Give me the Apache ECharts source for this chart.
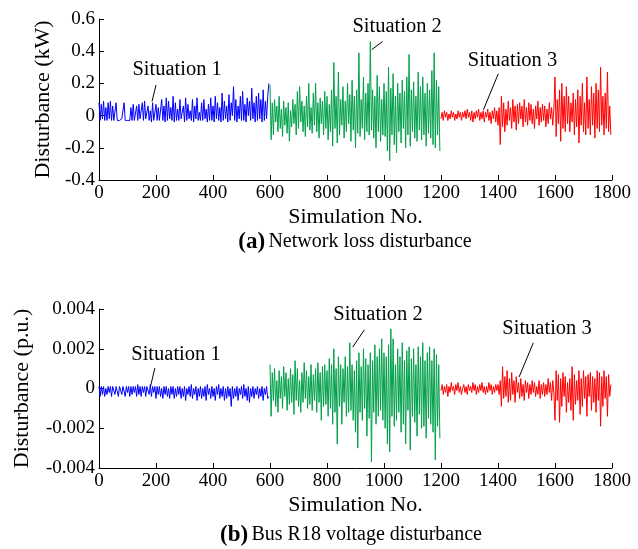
<!DOCTYPE html>
<html>
<head>
<meta charset="utf-8">
<script src="https://cdn.jsdelivr.net/npm/echarts@6/dist/echarts.min.js"></script>
<style>
  html, body { margin: 0; padding: 0; background: #fff; }
  #main { width: 638px; height: 549px; }
</style>
</head>
<body>
<div id="main"></div>
<script>
// sample spacing used when reading values off the picture
const xStep = 4
const segStart = [0, 600, 1200]
const situationNames = ['Situation 1', 'Situation 2', 'Situation 3']

// (a) network loss disturbance, kW
const lossS1 = [
  0.08,-0.03,0.07,-0.02,0.09,-0.03,0.05,-0.03,0.08,-0.02,
  0.09,-0.03,0.06,-0.03,-0.02,0.08,-0.03,-0.02,-0.03,-0.03,
  -0.02,-0.03,0.08,-0.03,-0.02,-0.03,-0.02,-0.03,0.05,-0.03,
  0.07,-0.03,-0.02,0.06,-0.03,0.07,-0.02,-0.03,0.08,-0.03,
  0.09,-0.02,-0.03,0.06,-0.03,0.03,-0.04,0.08,-0.03,-0.02,
  0.07,-0.03,0.05,-0.03,-0.02,0.1,-0.03,0.06,-0.04,0.11,
  -0.03,0.09,-0.02,0.05,-0.03,0.12,-0.04,0.08,-0.03,0.04,
  -0.03,0.1,-0.02,-0.03,0.06,-0.04,0.11,-0.03,0.07,-0.02,
  0.03,-0.03,0.1,-0.04,0.06,-0.02,0.11,-0.03,0.02,-0.03,
  0.08,-0.03,0.1,-0.02,0.04,-0.04,0.07,-0.03,0.11,-0.03,
  0.06,-0.04,0.12,-0.02,0.08,-0.03,0.05,-0.04,0.14,-0.03,
  0.09,-0.02,0.06,-0.04,0.13,-0.03,0.08,0.0,0.18,-0.03,
  0.1,-0.04,0.06,-0.02,0.12,-0.03,0.15,-0.03,0.07,-0.04,
  0.11,0.0,0.09,-0.03,0.17,-0.02,0.08,-0.04,0.12,-0.03,
  0.14,-0.02,0.1,-0.04,0.16,-0.03,0.09,-0.02,0.12,0.2
]
const lossS2 = [
  0.19,-0.15,0.08,-0.12,0.1,-0.04,0.06,-0.1,0.12,-0.08,
  0.04,-0.13,0.09,-0.06,0.05,-0.11,0.08,-0.16,0.03,-0.07,
  0.1,-0.05,0.07,-0.12,0.15,-0.08,0.18,-0.04,0.09,-0.1,
  0.06,-0.13,0.12,-0.07,0.2,-0.09,0.05,-0.11,0.14,-0.06,
  0.2,-0.1,0.08,-0.14,0.11,-0.05,0.09,-0.12,0.15,-0.08,
  0.12,-0.15,0.07,-0.1,0.16,-0.19,0.33,-0.08,0.12,-0.17,
  0.27,-0.12,0.1,-0.06,0.18,-0.14,0.09,-0.1,0.2,-0.05,
  0.13,-0.16,0.22,-0.09,0.12,-0.2,0.16,-0.11,0.39,-0.13,
  0.1,-0.08,0.24,-0.15,0.14,-0.1,0.2,-0.12,0.46,-0.09,
  0.16,-0.14,0.12,-0.2,0.25,-0.1,0.18,-0.16,0.1,-0.12,
  0.2,-0.13,0.15,-0.22,0.3,-0.28,0.17,-0.12,0.26,-0.18,
  0.12,-0.23,0.2,-0.1,0.14,-0.17,0.22,-0.08,0.15,-0.2,
  0.24,-0.12,0.38,-0.19,0.16,-0.1,0.21,-0.14,0.12,-0.16,
  0.27,-0.09,0.18,-0.15,0.24,-0.12,0.14,-0.19,0.2,-0.11,
  0.16,-0.14,0.28,-0.18,0.39,-0.2,0.22,-0.12,0.18,-0.22
]
const lossS3 = [
  -0.02,0.02,-0.03,0.03,-0.01,0.02,-0.03,0.01,-0.02,0.03,
  -0.01,0.02,-0.03,0.01,-0.02,0.03,-0.01,0.02,-0.03,0.02,
  -0.01,0.03,-0.02,0.04,-0.01,0.02,-0.03,0.03,-0.04,0.02,
  -0.02,0.03,-0.01,0.04,-0.03,0.02,-0.02,0.03,-0.04,0.02,
  -0.01,0.04,-0.03,0.02,-0.05,0.03,-0.02,0.05,-0.04,0.03,
  -0.06,0.05,-0.18,0.12,-0.07,0.08,-0.1,0.04,-0.06,0.09,
  -0.03,0.05,-0.08,0.1,-0.04,0.06,-0.09,0.07,-0.05,0.08,
  -0.02,0.06,-0.07,0.1,-0.04,0.05,-0.06,0.08,-0.03,0.07,
  -0.05,0.04,-0.08,0.06,-0.02,0.09,-0.06,0.05,-0.04,0.07,
  -0.03,0.06,-0.07,0.04,-0.05,0.08,-0.02,0.05,-0.06,0.04,
  0.24,-0.13,0.1,-0.05,0.16,-0.16,0.2,-0.08,0.12,-0.1,
  0.18,-0.05,0.12,-0.1,0.08,-0.04,0.14,-0.12,0.1,-0.07,
  0.16,-0.17,0.12,-0.06,0.2,-0.1,0.08,-0.12,0.24,-0.08,
  0.1,-0.12,0.18,-0.06,0.14,-0.14,0.2,-0.08,0.16,-0.1,
  0.3,-0.06,0.12,-0.12,0.14,-0.08,0.27,-0.1,0.06,-0.12
]

// (b) bus R18 voltage disturbance, p.u.
const voltS1 = [
  0.0001,-0.0004,0.0001,-0.0003,0.0001,-0.0004,0.0,-0.0003,0.0001,-0.0002,
  0.0001,-0.0004,0.0001,0.0001,-0.0003,0.0001,0.0,-0.0004,0.0001,0.0001,
  -0.0003,0.0001,0.0001,-0.0004,0.0001,-0.0002,0.0001,-0.0004,0.0001,-0.0003,
  0.0001,-0.0002,0.0001,-0.0004,0.0002,-0.0003,0.0001,-0.0004,0.0001,-0.0002,
  0.0001,-0.0004,0.0001,0.0001,-0.0003,0.0002,-0.0004,0.0001,-0.0002,0.0001,
  -0.0005,0.0001,-0.0003,0.0001,-0.0004,0.0,-0.0005,0.0001,-0.0003,0.0001,
  -0.0004,0.0,-0.0005,0.0001,-0.0003,0.0001,-0.0005,0.0,-0.0004,0.0001,
  -0.0003,0.0001,-0.0005,0.0,-0.0004,0.0001,-0.0006,0.0,-0.0003,0.0001,
  -0.0004,0.0002,-0.0005,0.0,-0.0003,0.0001,-0.0006,0.0,-0.0004,0.0001,
  -0.0005,0.0,-0.0004,0.0001,-0.0006,0.0002,-0.0003,0.0,-0.0005,0.0001,
  -0.0004,0.0,-0.0006,0.0001,-0.0003,0.0002,-0.0005,0.0,-0.0004,0.0001,
  -0.0006,0.0,-0.0005,0.0001,-0.0004,0.0,-0.0009,0.0001,-0.0005,0.0,
  -0.0004,0.0001,-0.0006,0.0,-0.0003,0.0001,-0.0005,0.0002,-0.0004,0.0,
  -0.0006,0.0001,-0.0007,0.0,-0.0004,0.0001,-0.0005,0.0,-0.0003,0.0001,
  -0.0005,0.0,-0.0004,0.0001,-0.0006,0.0,-0.0003,0.0001,-0.0005,-0.0004
]
const voltS2 = [
  0.0012,-0.0014,0.0008,-0.0006,0.001,-0.0009,0.0004,-0.0012,0.0009,-0.0005,
  0.0006,-0.001,0.0011,-0.0004,0.0008,-0.0011,0.0005,-0.0008,0.001,-0.0007,
  0.0007,-0.0013,0.0014,-0.0006,0.001,-0.0009,0.0004,-0.0012,0.0008,-0.0007,
  0.0013,-0.0005,0.0009,-0.001,0.0006,-0.0008,0.0012,-0.0011,0.0007,-0.0006,
  0.001,-0.0012,0.0013,-0.0007,0.0008,-0.0016,0.0011,-0.0009,0.0012,-0.0008,
  0.0009,-0.0014,0.0015,-0.001,0.0012,-0.0018,0.002,-0.0012,0.001,-0.0028,
  0.0016,-0.0009,0.0012,-0.0018,0.001,-0.0007,0.0016,-0.0014,0.0011,-0.0012,
  0.0023,-0.0011,0.0012,-0.0016,0.0009,-0.0022,0.0014,-0.003,0.0018,-0.0012,
  0.0011,-0.0016,0.002,-0.001,0.0015,-0.0024,0.0012,-0.0015,0.0018,-0.0037,
  0.0014,-0.0012,0.0022,-0.0018,0.0016,-0.0014,0.002,-0.0011,0.0025,-0.0016,
  0.0018,-0.002,0.0016,-0.0028,0.0022,-0.0032,0.003,-0.0014,0.0025,-0.0019,
  0.0012,-0.0016,0.002,-0.0012,0.0016,-0.0022,0.0023,-0.0018,0.0014,-0.0028,
  0.0019,-0.0011,0.0021,-0.0031,0.0015,-0.0014,0.002,-0.0017,0.0012,-0.0024,
  0.0021,-0.0013,0.0016,-0.002,0.0023,-0.0019,0.0014,-0.0025,0.0018,-0.0015,
  0.0021,-0.0018,0.0014,-0.0022,0.002,-0.0036,0.0017,-0.0019,0.0012,-0.0025
]
const voltS3 = [
  -0.0001,0.0002,-0.0003,0.0001,-0.0002,0.0002,-0.0004,0.0001,-0.0002,0.0003,
  -0.0001,0.0001,-0.0003,0.0002,-0.0001,0.0003,-0.0002,0.0001,-0.0003,0.0,
  0.0002,-0.0002,0.0001,-0.0003,0.0002,-0.0001,0.0001,-0.0002,0.0003,-0.0001,
  0.0002,-0.0003,0.0001,-0.0002,0.0002,-0.0001,0.0003,-0.0002,0.0001,-0.0003,
  0.0001,-0.0002,0.0003,-0.0001,0.0002,-0.0003,0.0001,-0.0002,0.0002,-0.0001,
  0.0002,-0.0003,0.0004,-0.0009,0.0011,-0.0005,0.0006,-0.0004,0.0009,-0.0007,
  0.0005,-0.0006,0.0008,-0.0003,0.0004,-0.0007,0.0006,-0.0002,0.0003,-0.0005,
  0.0005,-0.0004,0.0002,-0.0006,0.0004,-0.0002,0.0003,-0.0005,0.0002,-0.0003,
  0.0004,-0.0002,0.0003,-0.0004,0.0001,-0.0003,0.0004,-0.0005,0.0002,-0.0003,
  0.0003,-0.0004,0.0002,-0.0003,0.0005,-0.0002,0.0003,-0.0006,0.0004,-0.0002,
  -0.0016,0.0009,-0.0006,0.0007,-0.0017,0.0005,-0.0009,0.0008,-0.0004,0.0006,
  -0.0012,0.0003,-0.0007,0.0005,-0.0011,0.0011,-0.0016,0.0007,-0.0008,0.0004,
  -0.0006,0.0009,-0.0013,0.0005,-0.0009,0.0009,-0.0005,0.0006,-0.0014,0.0007,
  -0.0004,0.0008,-0.0011,0.0006,-0.0007,0.0005,-0.0012,0.0009,-0.0006,0.0008,
  -0.0019,0.0006,-0.0009,0.0009,-0.0005,0.0006,-0.0014,0.0007,-0.0004,0.0002
]

// annotation anchors in data units: [textX, textY, lineFromX, lineFromY, lineToX, lineToY]
const lossNotes = [
  [274, 0.285, 200, 0.19, 186, 0.087],
  [1046, 0.55, 995, 0.46, 957, 0.41],
  [1451, 0.344, 1401, 0.26, 1349, 0.037]
]
const voltNotes = [
  [270, 0.00172, 196, 0.00103, 181, 0.00012],
  [979, 0.0037, 931, 0.00295, 890, 0.00208],
  [1572, 0.003, 1524, 0.0023, 1474, 0.00058]
]

const colors = ['#0000ff', '#00a04a', '#ff0000']
const serif = 'Liberation Serif'

const toPts = (start, arr) => arr.map((v, i) => [start + i * xStep, v])

let chart = echarts.init(document.getElementById('main'))

const xAxisCfg = (gridIndex) => ({
  type: 'value',
  gridIndex: gridIndex,
  min: 0,
  max: 1800,
  interval: 200,
  name: 'Simulation No.',
  nameLocation: 'middle',
  nameGap: 26,
  nameTextStyle: { fontFamily: serif, fontSize: 22, color: '#000' },
  axisLine: { onZero: false, lineStyle: { color: '#000', width: 1 } },
  axisTick: { inside: true, length: 5, lineStyle: { color: '#000' } },
  axisLabel: { fontFamily: serif, fontSize: 19, color: '#000', margin: 4, formatter: (v) => String(v) },
  splitLine: { show: false }
})

const yAxisCfg = (gridIndex, name, min, max, interval, gap, fmt) => ({
  type: 'value',
  gridIndex: gridIndex,
  min: min,
  max: max,
  interval: interval,
  name: name,
  nameLocation: 'middle',
  nameGap: gap,
  nameTextStyle: { fontFamily: serif, fontSize: 22, color: '#000' },
  axisLine: { show: true, onZero: false, lineStyle: { color: '#000', width: 1 } },
  axisTick: { inside: true, length: 5, lineStyle: { color: '#000' } },
  axisLabel: { fontFamily: serif, fontSize: 19, color: '#000', margin: 4, formatter: fmt },
  splitLine: { show: false }
})

const lineSeries = (idx, arr, k) => ({
  type: 'line',
  xAxisIndex: idx,
  yAxisIndex: idx,
  data: toPts(segStart[k], arr),
  showSymbol: false,
  symbol: 'none',
  lineStyle: { color: colors[k], width: 1 },
  animation: false
})

let options = {
  backgroundColor: '#fff',
  animation: false,
  grid: [
    { left: 99, right: 26, top: 19, height: 161 },
    { left: 99, right: 26, top: 309, height: 159 }
  ],
  xAxis: [xAxisCfg(0), xAxisCfg(1)],
  yAxis: [
    yAxisCfg(0, 'Disturbance (kW)', -0.4, 0.6, 0.2, 45, (v) => String(+v.toFixed(1))),
    yAxisCfg(1, 'Disturbance (p.u.)', -0.004, 0.004, 0.002, 66, (v) => String(+v.toFixed(3)))
  ],
  series: [
    lineSeries(0, lossS1, 0),
    lineSeries(0, lossS2, 1),
    lineSeries(0, lossS3, 2),
    lineSeries(1, voltS1, 0),
    lineSeries(1, voltS2, 1),
    lineSeries(1, voltS3, 2)
  ]
}
chart.setOption(options)

// annotations and captions
let graphics = []
const addNotes = (gridIndex, notes) => {
  notes.forEach((n, k) => {
    let t = chart.convertToPixel({ gridIndex: gridIndex }, [n[0], n[1]])
    let a = chart.convertToPixel({ gridIndex: gridIndex }, [n[2], n[3]])
    let b = chart.convertToPixel({ gridIndex: gridIndex }, [n[4], n[5]])
    graphics.push({
      type: 'text',
      x: t[0], y: t[1],
      style: { text: situationNames[k], fontFamily: serif, fontSize: 20.5, fill: '#000', align: 'center', verticalAlign: 'middle' }
    })
    graphics.push({
      type: 'line',
      shape: { x1: a[0], y1: a[1], x2: b[0], y2: b[1] },
      style: { stroke: '#000', lineWidth: 1 }
    })
  })
}
addNotes(0, lossNotes)
addNotes(1, voltNotes)

const caption = (x, y, tag, text) => ({
  type: 'text',
  x: x, y: y,
  style: {
    text: '{b|' + tag + '} {n|' + text + '}',
    align: 'center',
    verticalAlign: 'middle',
    rich: {
      b: { fontFamily: serif, fontSize: 23, fontWeight: 'bold', fill: '#000' },
      n: { fontFamily: serif, fontSize: 20, fill: '#000' }
    }
  }
})
graphics.push(caption(355, 242, '(a)', 'Network loss disturbance'))
graphics.push(caption(351, 535, '(b)', 'Bus R18 voltage disturbance'))

chart.setOption({ graphic: graphics })
</script>
</body>
</html>
